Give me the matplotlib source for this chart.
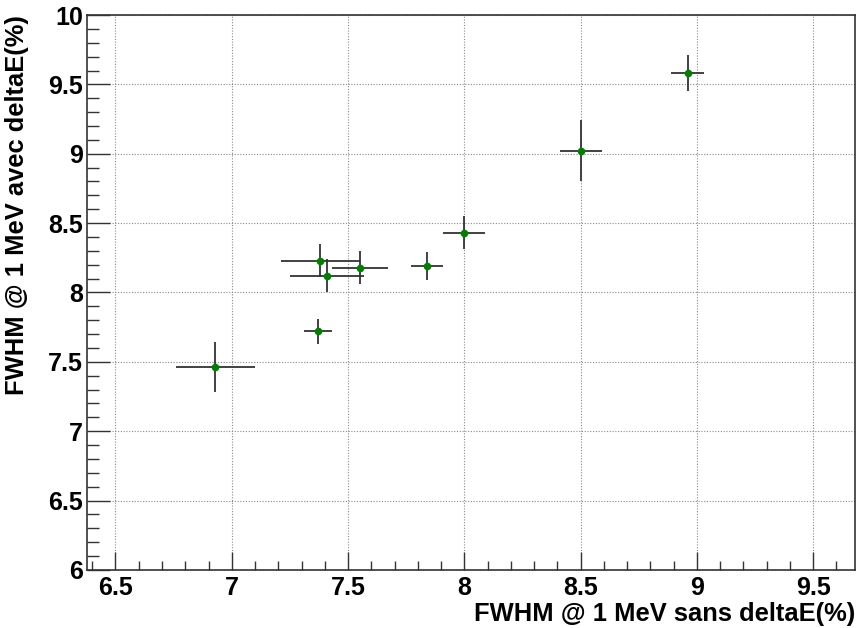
import matplotlib
matplotlib.use("Agg")
import matplotlib.pyplot as plt
from matplotlib.ticker import MultipleLocator, FuncFormatter

# FWHM at 1 MeV: resolution without vs with deltaE correction (%)
fwhm_sans = [6.93, 7.37, 7.38, 7.41, 7.55, 7.84, 8.00, 8.50, 8.96]
fwhm_sans_err = [0.17, 0.06, 0.17, 0.16, 0.12, 0.07, 0.09, 0.09, 0.07]
fwhm_avec = [7.46, 7.72, 8.23, 8.12, 8.18, 8.19, 8.43, 9.02, 9.58]
fwhm_avec_err = [0.18, 0.09, 0.12, 0.12, 0.12, 0.10, 0.12, 0.22, 0.13]

x_title = "FWHM @ 1 MeV sans deltaE(%)"
y_title = "FWHM @ 1 MeV avec deltaE(%)"

plt.rcParams["font.family"] = ["Liberation Sans", "DejaVu Sans"]
plt.rcParams["font.weight"] = "bold"

fig = plt.figure(figsize=(8.57, 6.28), dpi=100)
ax = fig.add_axes([0.1015, 0.0924, 0.8962, 0.8837])

ax.errorbar(fwhm_sans, fwhm_avec, xerr=fwhm_sans_err, yerr=fwhm_avec_err,
            fmt="o", color="#008000", markersize=5.5, markeredgewidth=0,
            ecolor="#333333", elinewidth=1.3, capsize=2.5, capthick=1.3,
            zorder=3)

ax.set_xlim(6.3775, 9.68)
ax.set_ylim(6.0, 10.0)

ax.xaxis.set_major_locator(MultipleLocator(0.5))
ax.xaxis.set_minor_locator(MultipleLocator(0.1))
ax.yaxis.set_major_locator(MultipleLocator(0.5))
ax.yaxis.set_minor_locator(MultipleLocator(0.1))

fmt = FuncFormatter(lambda v, p: f"{v:g}")
ax.xaxis.set_major_formatter(fmt)
ax.yaxis.set_major_formatter(fmt)

ax.tick_params(axis="both", which="both", direction="in",
               top=False, right=False, colors="#333333", labelcolor="black",
               labelsize=18, width=1.0)
ax.tick_params(axis="x", which="major", length=13, pad=4)
ax.tick_params(axis="x", which="minor", length=6.5)
ax.tick_params(axis="y", which="major", length=16.5, pad=3)
ax.tick_params(axis="y", which="minor", length=8.5)
for lab in ax.get_xticklabels() + ax.get_yticklabels():
    lab.set_fontweight("bold")

ax.grid(True, which="major", color="#8a8a8a", linestyle=(0, (1, 1.5)),
        linewidth=0.8, zorder=0)
ax.set_axisbelow(True)

for side in ["left", "bottom", "top", "right"]:
    ax.spines[side].set_color("#333333")
    ax.spines[side].set_linewidth(1.2)

ax.set_xlabel(x_title, fontsize=18.4, fontweight="bold", loc="right")
ax.xaxis.set_label_coords(1.0, -0.058)
ax.set_ylabel(y_title, fontsize=18.4, fontweight="bold", loc="top")
ax.yaxis.set_label_coords(-0.076, 1.0)

fig.savefig("out.png", dpi=100)
